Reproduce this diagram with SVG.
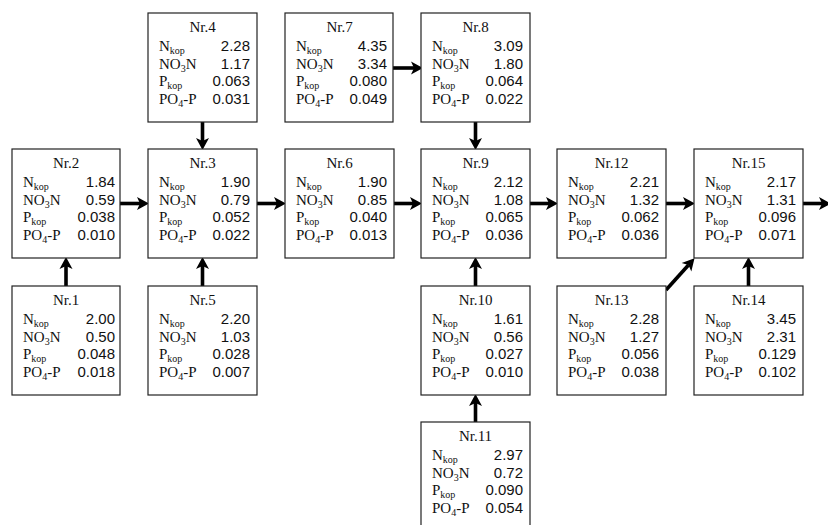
<svg xmlns="http://www.w3.org/2000/svg" width="828" height="525" viewBox="0 0 828 525">
<defs>
<marker id="ah" markerUnits="userSpaceOnUse" markerWidth="14" markerHeight="16" refX="3" refY="7" orient="auto" viewBox="0 0 14 14">
<path d="M0,0.5 L12,7 L0,13.5 L3,7 Z" fill="#000"/>
</marker>
<style>
.box{fill:#fff;stroke:#222;stroke-width:1.2}
.t{font-family:"Liberation Serif","Times New Roman",serif;font-size:15px;fill:#111}
.ti{text-anchor:middle}
.s{font-size:10px}
.v{font-family:"Liberation Sans",Arial,sans-serif;font-size:15px;fill:#111;text-anchor:end}
.c{stroke:#000;stroke-width:3.6;fill:none;marker-end:url(#ah)}
</style>
</defs>
<g id="connectors">
<line class="c" x1="66" y1="286" x2="66" y2="266"/>
<line class="c" x1="120" y1="203.5" x2="140" y2="203.5"/>
<line class="c" x1="202.5" y1="122" x2="202.5" y2="141"/>
<line class="c" x1="202.5" y1="286" x2="202.5" y2="266"/>
<line class="c" x1="257" y1="203.5" x2="277" y2="203.5"/>
<line class="c" x1="394" y1="203.5" x2="413" y2="203.5"/>
<line class="c" x1="393" y1="68" x2="414" y2="68"/>
<line class="c" x1="475.5" y1="122" x2="475.5" y2="141"/>
<line class="c" x1="475.5" y1="286" x2="475.5" y2="266"/>
<line class="c" x1="475.5" y1="422" x2="475.5" y2="403"/>
<line class="c" x1="530" y1="203.5" x2="549" y2="203.5"/>
<line class="c" x1="666" y1="203.5" x2="686" y2="203.5"/>
<line class="c" x1="666" y1="290" x2="688.5" y2="265"/>
<line class="c" x1="748.5" y1="286" x2="748.5" y2="266"/>
<line class="c" x1="803" y1="203.5" x2="822" y2="203.5"/>
</g>
<g id="n4" transform="translate(148,13)">
<rect class="box" width="109" height="109"/>
<text class="t ti" x="54.5" y="19">Nr.4</text>
<text class="t" x="11" y="38">N<tspan class="s" dy="3">kop</tspan></text>
<text class="t" x="11" y="55.5">NO<tspan class="s" dy="3">3</tspan><tspan dy="-3">N</tspan></text>
<text class="t" x="11" y="73">P<tspan class="s" dy="3">kop</tspan></text>
<text class="t" x="11" y="90.5">PO<tspan class="s" dy="3">4</tspan><tspan dy="-3">-P</tspan></text>
<text class="v" x="102" y="38">2.28</text><text class="v" x="102" y="55.5">1.17</text><text class="v" x="102" y="73">0.063</text><text class="v" x="102" y="90.5">0.031</text>
</g>
<g id="n7" transform="translate(285,13)">
<rect class="box" width="108" height="109"/>
<text class="t ti" x="54.5" y="19">Nr.7</text>
<text class="t" x="11" y="38">N<tspan class="s" dy="3">kop</tspan></text>
<text class="t" x="11" y="55.5">NO<tspan class="s" dy="3">3</tspan><tspan dy="-3">N</tspan></text>
<text class="t" x="11" y="73">P<tspan class="s" dy="3">kop</tspan></text>
<text class="t" x="11" y="90.5">PO<tspan class="s" dy="3">4</tspan><tspan dy="-3">-P</tspan></text>
<text class="v" x="102" y="38">4.35</text><text class="v" x="102" y="55.5">3.34</text><text class="v" x="102" y="73">0.080</text><text class="v" x="102" y="90.5">0.049</text>
</g>
<g id="n8" transform="translate(421,13)">
<rect class="box" width="109" height="109"/>
<text class="t ti" x="54.5" y="19">Nr.8</text>
<text class="t" x="11" y="38">N<tspan class="s" dy="3">kop</tspan></text>
<text class="t" x="11" y="55.5">NO<tspan class="s" dy="3">3</tspan><tspan dy="-3">N</tspan></text>
<text class="t" x="11" y="73">P<tspan class="s" dy="3">kop</tspan></text>
<text class="t" x="11" y="90.5">PO<tspan class="s" dy="3">4</tspan><tspan dy="-3">-P</tspan></text>
<text class="v" x="102" y="38">3.09</text><text class="v" x="102" y="55.5">1.80</text><text class="v" x="102" y="73">0.064</text><text class="v" x="102" y="90.5">0.022</text>
</g>
<g id="n2" transform="translate(12,149)">
<rect class="box" width="108" height="109"/>
<text class="t ti" x="54" y="19">Nr.2</text>
<text class="t" x="11" y="38">N<tspan class="s" dy="3">kop</tspan></text>
<text class="t" x="11" y="55.5">NO<tspan class="s" dy="3">3</tspan><tspan dy="-3">N</tspan></text>
<text class="t" x="11" y="73">P<tspan class="s" dy="3">kop</tspan></text>
<text class="t" x="11" y="90.5">PO<tspan class="s" dy="3">4</tspan><tspan dy="-3">-P</tspan></text>
<text class="v" x="103" y="38">1.84</text><text class="v" x="103" y="55.5">0.59</text><text class="v" x="103" y="73">0.038</text><text class="v" x="103" y="90.5">0.010</text>
</g>
<g id="n3" transform="translate(148,149)">
<rect class="box" width="109" height="109"/>
<text class="t ti" x="54.5" y="19">Nr.3</text>
<text class="t" x="11" y="38">N<tspan class="s" dy="3">kop</tspan></text>
<text class="t" x="11" y="55.5">NO<tspan class="s" dy="3">3</tspan><tspan dy="-3">N</tspan></text>
<text class="t" x="11" y="73">P<tspan class="s" dy="3">kop</tspan></text>
<text class="t" x="11" y="90.5">PO<tspan class="s" dy="3">4</tspan><tspan dy="-3">-P</tspan></text>
<text class="v" x="102" y="38">1.90</text><text class="v" x="102" y="55.5">0.79</text><text class="v" x="102" y="73">0.052</text><text class="v" x="102" y="90.5">0.022</text>
</g>
<g id="n6" transform="translate(285,149)">
<rect class="box" width="109" height="109"/>
<text class="t ti" x="54.5" y="19">Nr.6</text>
<text class="t" x="11" y="38">N<tspan class="s" dy="3">kop</tspan></text>
<text class="t" x="11" y="55.5">NO<tspan class="s" dy="3">3</tspan><tspan dy="-3">N</tspan></text>
<text class="t" x="11" y="73">P<tspan class="s" dy="3">kop</tspan></text>
<text class="t" x="11" y="90.5">PO<tspan class="s" dy="3">4</tspan><tspan dy="-3">-P</tspan></text>
<text class="v" x="102" y="38">1.90</text><text class="v" x="102" y="55.5">0.85</text><text class="v" x="102" y="73">0.040</text><text class="v" x="102" y="90.5">0.013</text>
</g>
<g id="n9" transform="translate(421,149)">
<rect class="box" width="109" height="109"/>
<text class="t ti" x="54.5" y="19">Nr.9</text>
<text class="t" x="11" y="38">N<tspan class="s" dy="3">kop</tspan></text>
<text class="t" x="11" y="55.5">NO<tspan class="s" dy="3">3</tspan><tspan dy="-3">N</tspan></text>
<text class="t" x="11" y="73">P<tspan class="s" dy="3">kop</tspan></text>
<text class="t" x="11" y="90.5">PO<tspan class="s" dy="3">4</tspan><tspan dy="-3">-P</tspan></text>
<text class="v" x="102" y="38">2.12</text><text class="v" x="102" y="55.5">1.08</text><text class="v" x="102" y="73">0.065</text><text class="v" x="102" y="90.5">0.036</text>
</g>
<g id="n12" transform="translate(557,149)">
<rect class="box" width="109" height="109"/>
<text class="t ti" x="54.5" y="19">Nr.12</text>
<text class="t" x="11" y="38">N<tspan class="s" dy="3">kop</tspan></text>
<text class="t" x="11" y="55.5">NO<tspan class="s" dy="3">3</tspan><tspan dy="-3">N</tspan></text>
<text class="t" x="11" y="73">P<tspan class="s" dy="3">kop</tspan></text>
<text class="t" x="11" y="90.5">PO<tspan class="s" dy="3">4</tspan><tspan dy="-3">-P</tspan></text>
<text class="v" x="102" y="38">2.21</text><text class="v" x="102" y="55.5">1.32</text><text class="v" x="102" y="73">0.062</text><text class="v" x="102" y="90.5">0.036</text>
</g>
<g id="n15" transform="translate(694,149)">
<rect class="box" width="109" height="109"/>
<text class="t ti" x="54.5" y="19">Nr.15</text>
<text class="t" x="11" y="38">N<tspan class="s" dy="3">kop</tspan></text>
<text class="t" x="11" y="55.5">NO<tspan class="s" dy="3">3</tspan><tspan dy="-3">N</tspan></text>
<text class="t" x="11" y="73">P<tspan class="s" dy="3">kop</tspan></text>
<text class="t" x="11" y="90.5">PO<tspan class="s" dy="3">4</tspan><tspan dy="-3">-P</tspan></text>
<text class="v" x="102" y="38">2.17</text><text class="v" x="102" y="55.5">1.31</text><text class="v" x="102" y="73">0.096</text><text class="v" x="102" y="90.5">0.071</text>
</g>
<g id="n1" transform="translate(12,286)">
<rect class="box" width="108" height="109"/>
<text class="t ti" x="54" y="19">Nr.1</text>
<text class="t" x="11" y="38">N<tspan class="s" dy="3">kop</tspan></text>
<text class="t" x="11" y="55.5">NO<tspan class="s" dy="3">3</tspan><tspan dy="-3">N</tspan></text>
<text class="t" x="11" y="73">P<tspan class="s" dy="3">kop</tspan></text>
<text class="t" x="11" y="90.5">PO<tspan class="s" dy="3">4</tspan><tspan dy="-3">-P</tspan></text>
<text class="v" x="103" y="38">2.00</text><text class="v" x="103" y="55.5">0.50</text><text class="v" x="103" y="73">0.048</text><text class="v" x="103" y="90.5">0.018</text>
</g>
<g id="n5" transform="translate(148,286)">
<rect class="box" width="109" height="109"/>
<text class="t ti" x="54.5" y="19">Nr.5</text>
<text class="t" x="11" y="38">N<tspan class="s" dy="3">kop</tspan></text>
<text class="t" x="11" y="55.5">NO<tspan class="s" dy="3">3</tspan><tspan dy="-3">N</tspan></text>
<text class="t" x="11" y="73">P<tspan class="s" dy="3">kop</tspan></text>
<text class="t" x="11" y="90.5">PO<tspan class="s" dy="3">4</tspan><tspan dy="-3">-P</tspan></text>
<text class="v" x="102" y="38">2.20</text><text class="v" x="102" y="55.5">1.03</text><text class="v" x="102" y="73">0.028</text><text class="v" x="102" y="90.5">0.007</text>
</g>
<g id="n10" transform="translate(421,286)">
<rect class="box" width="109" height="109"/>
<text class="t ti" x="54.5" y="19">Nr.10</text>
<text class="t" x="11" y="38">N<tspan class="s" dy="3">kop</tspan></text>
<text class="t" x="11" y="55.5">NO<tspan class="s" dy="3">3</tspan><tspan dy="-3">N</tspan></text>
<text class="t" x="11" y="73">P<tspan class="s" dy="3">kop</tspan></text>
<text class="t" x="11" y="90.5">PO<tspan class="s" dy="3">4</tspan><tspan dy="-3">-P</tspan></text>
<text class="v" x="102" y="38">1.61</text><text class="v" x="102" y="55.5">0.56</text><text class="v" x="102" y="73">0.027</text><text class="v" x="102" y="90.5">0.010</text>
</g>
<g id="n13" transform="translate(557,286)">
<rect class="box" width="109" height="109"/>
<text class="t ti" x="54.5" y="19">Nr.13</text>
<text class="t" x="11" y="38">N<tspan class="s" dy="3">kop</tspan></text>
<text class="t" x="11" y="55.5">NO<tspan class="s" dy="3">3</tspan><tspan dy="-3">N</tspan></text>
<text class="t" x="11" y="73">P<tspan class="s" dy="3">kop</tspan></text>
<text class="t" x="11" y="90.5">PO<tspan class="s" dy="3">4</tspan><tspan dy="-3">-P</tspan></text>
<text class="v" x="102" y="38">2.28</text><text class="v" x="102" y="55.5">1.27</text><text class="v" x="102" y="73">0.056</text><text class="v" x="102" y="90.5">0.038</text>
</g>
<g id="n14" transform="translate(694,286)">
<rect class="box" width="109" height="109"/>
<text class="t ti" x="54.5" y="19">Nr.14</text>
<text class="t" x="11" y="38">N<tspan class="s" dy="3">kop</tspan></text>
<text class="t" x="11" y="55.5">NO<tspan class="s" dy="3">3</tspan><tspan dy="-3">N</tspan></text>
<text class="t" x="11" y="73">P<tspan class="s" dy="3">kop</tspan></text>
<text class="t" x="11" y="90.5">PO<tspan class="s" dy="3">4</tspan><tspan dy="-3">-P</tspan></text>
<text class="v" x="102" y="38">3.45</text><text class="v" x="102" y="55.5">2.31</text><text class="v" x="102" y="73">0.129</text><text class="v" x="102" y="90.5">0.102</text>
</g>
<g id="n11" transform="translate(421,422)">
<rect class="box" width="109" height="109"/>
<text class="t ti" x="54.5" y="19">Nr.11</text>
<text class="t" x="11" y="38">N<tspan class="s" dy="3">kop</tspan></text>
<text class="t" x="11" y="55.5">NO<tspan class="s" dy="3">3</tspan><tspan dy="-3">N</tspan></text>
<text class="t" x="11" y="73">P<tspan class="s" dy="3">kop</tspan></text>
<text class="t" x="11" y="90.5">PO<tspan class="s" dy="3">4</tspan><tspan dy="-3">-P</tspan></text>
<text class="v" x="102" y="38">2.97</text><text class="v" x="102" y="55.5">0.72</text><text class="v" x="102" y="73">0.090</text><text class="v" x="102" y="90.5">0.054</text>
</g>
</svg>
